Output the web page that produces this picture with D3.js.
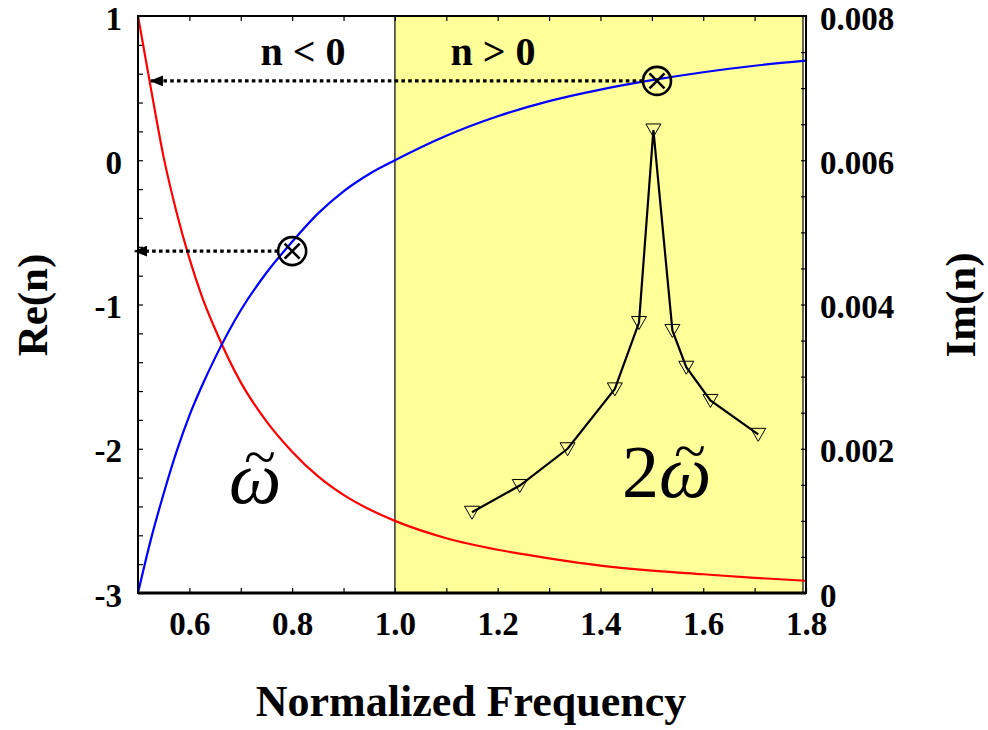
<!DOCTYPE html>
<html>
<head>
<meta charset="utf-8">
<script src="https://cdn.jsdelivr.net/npm/d3@7"></script>
<style>
  body { margin: 0; background: #fff; }
  svg { display: block; }
  text { font-family: "Liberation Serif", "Times New Roman", serif; font-weight: bold; fill: #000; }
</style>
</head>
<body>
<script>
// frequency samples for the two Re(n) curves
let freq   = [0.5, 0.525, 0.55, 0.575, 0.6, 0.625, 0.65, 0.7, 0.75, 0.8, 0.85, 0.9, 0.95, 1.0, 1.1, 1.2, 1.3, 1.4, 1.5, 1.6, 1.7, 1.8];
let reBlue = [-3.0, -2.63, -2.31, -2.02, -1.77, -1.56, -1.37, -1.04, -0.78, -0.565, -0.37, -0.215, -0.095, 0.0, 0.17, 0.305, 0.41, 0.49, 0.555, 0.61, 0.655, 0.69];
let reRed  = [1.0, 0.5, 0.02, -0.36, -0.68, -0.95, -1.17, -1.54, -1.81, -2.02, -2.19, -2.32, -2.42, -2.5, -2.62, -2.7, -2.76, -2.81, -2.845, -2.87, -2.895, -2.915];

// Im(n) around 2*omega (right axis)
let imFreq = [1.150, 1.243, 1.336, 1.428, 1.475, 1.503, 1.540, 1.567, 1.614, 1.707];
let imVal  = [0.00112, 0.00149, 0.00200, 0.00283, 0.00375, 0.00642, 0.00364, 0.00313, 0.00267, 0.00220];

// circled-cross markers and where their dotted arrows point to
let markFreq = [0.8, 1.51];
let markRe   = [-0.63, 0.55];
let arrowTo  = [0.494, 0.525];

let xMinor = d3.range(6, 19).map(d => d / 10);
let xLabels = [0.6, 0.8, 1.0, 1.2, 1.4, 1.6, 1.8];
let reMinor = d3.range(-15, 6).map(d => d / 5);
let reLabels = [1, 0, -1, -2, -3];
let imMinor = d3.range(0, 17).map(d => d * 0.0005);
let imLabels = [0, 0.002, 0.004, 0.006, 0.008];

let W = 988, H = 730;
let svg = d3.select('body').append('svg').attr('width', W).attr('height', H);

let x = d3.scaleLinear().domain([0.5, 1.8]).range([138, 806]);
let yRe = d3.scaleLinear().domain([-3, 1]).range([593, 16]);
let yIm = d3.scaleLinear().domain([0, 0.008]).range([593, 16]);

// shaded n > 0 region
svg.append('rect')
  .attr('x', x(1.0)).attr('y', yRe(1))
  .attr('width', x(1.8) - x(1.0) - 3).attr('height', yRe(-3) - yRe(1))
  .attr('fill', '#ffff99').attr('stroke', '#000').attr('stroke-width', 1.2);

// tick marks (inward)
function ticks(axis, tr) {
  let g = svg.append('g').attr('transform', tr).call(axis);
  g.select('.domain').remove();
  g.selectAll('line').attr('stroke', '#000').attr('stroke-width', 1.2);
  return g;
}
ticks(d3.axisBottom(x).tickValues(xMinor).tickSize(-5).tickFormat(''), 'translate(0,593)');
ticks(d3.axisTop(x).tickValues(xMinor).tickSize(-5).tickFormat(''), 'translate(0,16)');
ticks(d3.axisLeft(yRe).tickValues(reMinor).tickSize(-5).tickFormat(''), 'translate(138,0)');
ticks(d3.axisRight(yIm).tickValues(imMinor).tickSize(-5).tickFormat(''), 'translate(806,0)');

// tick labels
let gx = ticks(d3.axisBottom(x).tickValues(xLabels).tickSize(0).tickFormat(d3.format('.1f')), 'translate(0,593)');
gx.selectAll('text').attr('y', 42).attr('dy', null);
let gl = ticks(d3.axisLeft(yRe).tickValues(reLabels).tickSize(0).tickPadding(16).tickFormat(d => String(d)), 'translate(138,0)');
let gr = ticks(d3.axisRight(yIm).tickValues(imLabels).tickSize(0).tickPadding(14).tickFormat(d => d === 0 ? '0' : d3.format('.3f')(d)), 'translate(806,0)');
[gl, gr].forEach(g => g.selectAll('text').attr('dy', '0.4em'));
[gx, gl, gr].forEach(g => g.selectAll('text')
  .style('font-family', '"Liberation Serif", "Times New Roman", serif')
  .style('font-weight', 'bold').style('font-size', '33px').attr('fill', '#000'));

// curves
let reLine = d3.line().x((d, i) => x(freq[i])).curve(d3.curveMonotoneX);
svg.append('path').datum(reRed)
  .attr('d', reLine.y(d => yRe(d)))
  .attr('fill', 'none').attr('stroke', '#ff0000').attr('stroke-width', 2.2);
svg.append('path').datum(reBlue)
  .attr('d', reLine.y(d => yRe(d)))
  .attr('fill', 'none').attr('stroke', '#0000ff').attr('stroke-width', 2.2);

// Im(n) data
let imPts = imFreq.map((f, i) => [x(f), yIm(imVal[i])]);
svg.append('path').datum(imPts)
  .attr('d', d3.line())
  .attr('fill', 'none').attr('stroke', '#000').attr('stroke-width', 2.2);
svg.selectAll('.tri').data(imPts).enter().append('path')
  .attr('transform', d => 'translate(' + d[0] + ',' + d[1] + ')')
  .attr('d', 'M-7.5,-6L7.5,-6L0,7Z')
  .attr('fill', 'none').attr('stroke', '#000').attr('stroke-width', 1);

// dotted arrows
svg.append('defs').append('marker')
  .attr('id', 'ah').attr('viewBox', '0 0 10 10').attr('refX', 9).attr('refY', 5)
  .attr('markerWidth', 4.2).attr('markerHeight', 3.4).attr('orient', 'auto')
  .attr('preserveAspectRatio', 'none')
  .append('path').attr('d', 'M0,0L10,5L0,10Z').attr('fill', '#000');
let r = 14;
markFreq.forEach((f, i) => {
  let cx = x(f), cy = yRe(markRe[i]);
  svg.append('line')
    .attr('x1', cx - r).attr('y1', cy).attr('x2', x(arrowTo[i])).attr('y2', cy)
    .attr('stroke', '#000').attr('stroke-width', 3.2).attr('stroke-dasharray', '3.6,3.2')
    .attr('marker-end', 'url(#ah)');
  svg.append('circle').attr('cx', cx).attr('cy', cy).attr('r', r)
    .attr('fill', 'none').attr('stroke', '#000').attr('stroke-width', 2.6);
  let k = 7.5;
  svg.append('path')
    .attr('d', 'M' + (cx - k) + ',' + (cy - k) + 'L' + (cx + k) + ',' + (cy + k) + 'M' + (cx - k) + ',' + (cy + k) + 'L' + (cx + k) + ',' + (cy - k))
    .attr('stroke', '#000').attr('stroke-width', 2.6);
});

// frame
svg.append('rect').attr('x', 138).attr('y', 16).attr('width', 806 - 138).attr('height', 593 - 16)
  .attr('fill', 'none').attr('stroke', '#000').attr('stroke-width', 2);
svg.append('line').attr('x1', 138).attr('x2', 806).attr('y1', 593).attr('y2', 593)
  .attr('stroke', '#000').attr('stroke-width', 3);

// annotations
svg.append('text').attr('x', 303).attr('y', 65).attr('text-anchor', 'middle')
  .style('font-size', '40px').text('n < 0');
svg.append('text').attr('x', 493).attr('y', 65).attr('text-anchor', 'middle')
  .style('font-size', '40px').text('n > 0');

function omegaTilde(xw, yb, withTwo) {
  let t = svg.append('text').attr('x', xw).attr('y', yb)
    .style('font-size', '74px').style('font-weight', 'normal');
  if (withTwo) t.append('tspan').text('2');
  t.append('tspan').style('font-style', 'italic').text('\u03c9');
  // tilde above the omega
  let wEnd = xw + t.node().getComputedTextLength();
  svg.append('text').attr('x', wEnd - 22).attr('y', yb - 27).attr('text-anchor', 'middle')
    .style('font-size', '58px').style('font-weight', 'normal').style('font-style', 'italic')
    .text('~');
}
omegaTilde(229, 503, false);
omegaTilde(622, 497, true);

// axis titles
svg.append('text').attr('x', 471).attr('y', 716).attr('text-anchor', 'middle')
  .style('font-size', '44px').text('Normalized Frequency');
svg.append('text').attr('transform', 'translate(47,305) rotate(-90)').attr('text-anchor', 'middle')
  .style('font-size', '43px').text('Re(n)');
svg.append('text').attr('transform', 'translate(975,305) rotate(-90)').attr('text-anchor', 'middle')
  .style('font-size', '43px').text('Im(n)');
</script>
</body>
</html>
